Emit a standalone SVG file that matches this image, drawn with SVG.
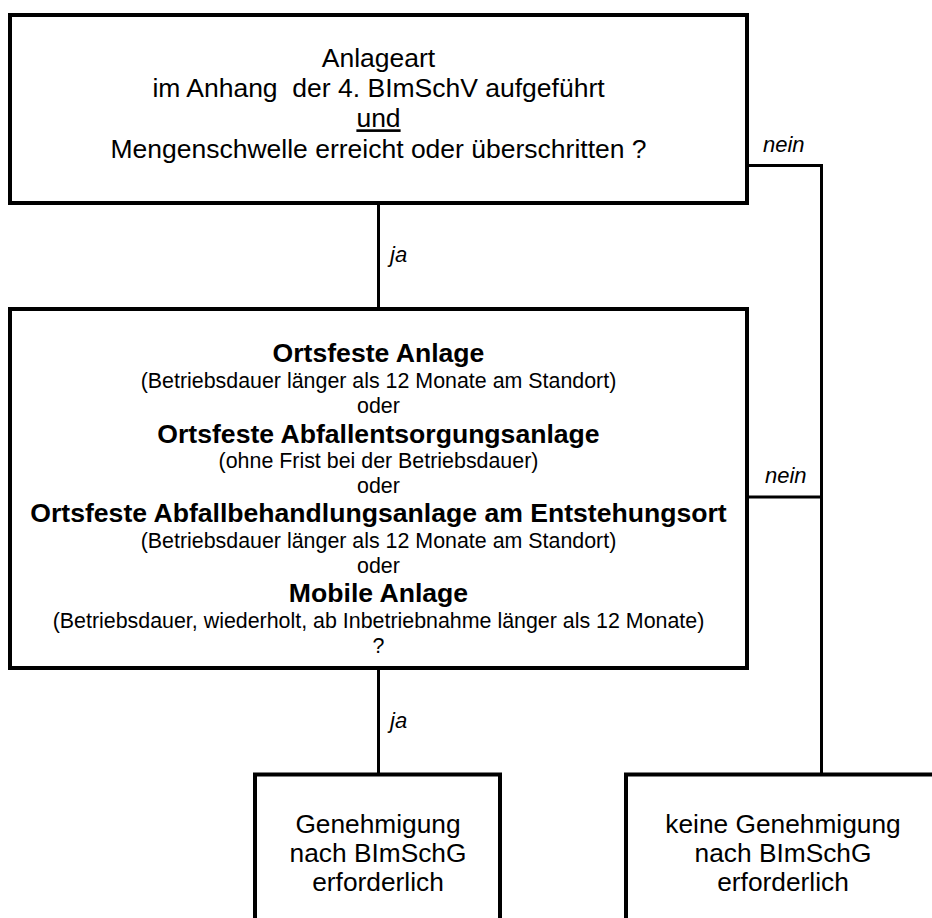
<svg xmlns="http://www.w3.org/2000/svg" width="932" height="918" viewBox="0 0 932 918">
<style>
.box{fill:#fff;stroke:#000;stroke-width:4}
.con{fill:none;stroke:#000;stroke-width:3}
text{font-family:"Liberation Sans",Arial,sans-serif;fill:#000;text-anchor:middle}
.t1{font-size:26.5px}
.b{font-size:26.6px;font-weight:bold}
.n{font-size:21.4px}
.lab{font-size:22px;font-style:italic;text-anchor:start}
.res{font-size:26.3px}
</style>
<rect width="932" height="918" fill="#fff"/>
<g id="connectors">
<line class="con" x1="378.5" y1="203" x2="378.5" y2="309"/>
<line class="con" x1="378.5" y1="668" x2="378.5" y2="774"/>
<polyline class="con" points="747,165.5 821.5,165.5 821.5,774"/>
<line class="con" x1="747" y1="497" x2="821.5" y2="497"/>
<text class="lab" x="390" y="262">ja</text>
<text class="lab" x="390" y="728">ja</text>
<text class="lab" x="763" y="152">nein</text>
<text class="lab" x="765" y="483">nein</text>
</g>
<g id="q1">
<rect class="box" x="10" y="15" width="737" height="188"/>
<text class="t1" x="378.5" y="66.5">Anlageart</text>
<text class="t1" x="378.5" y="96.7" xml:space="preserve">im Anhang  der 4. BImSchV aufgeführt</text>
<text class="t1" x="378.5" y="127.3" text-decoration="underline">und</text>
<text class="t1" x="378.5" y="158.3">Mengenschwelle erreicht oder überschritten ?</text>
</g>
<g id="q2">
<rect class="box" x="10" y="309" width="737" height="359"/>
<text class="b" x="378.5" y="361.7">Ortsfeste Anlage</text>
<text class="n" x="378.5" y="388">(Betriebsdauer länger als 12 Monate am Standort)</text>
<text class="n" x="378.5" y="413">oder</text>
<text class="b" x="378.5" y="442.7">Ortsfeste Abfallentsorgungsanlage</text>
<text class="n" x="378.5" y="468">(ohne Frist bei der Betriebsdauer)</text>
<text class="n" x="378.5" y="493">oder</text>
<text class="b" x="378.5" y="521.7">Ortsfeste Abfallbehandlungsanlage am Entstehungsort</text>
<text class="n" x="378.5" y="548">(Betriebsdauer länger als 12 Monate am Standort)</text>
<text class="n" x="378.5" y="573">oder</text>
<text class="b" x="378.5" y="601.7">Mobile Anlage</text>
<text class="n" x="378.5" y="628">(Betriebsdauer, wiederholt, ab Inbetriebnahme länger als 12 Monate)</text>
<text class="n" x="378.5" y="653">?</text>
</g>
<g id="yes">
<rect class="box" x="255" y="774.5" width="245" height="170"/>
<text class="res" x="378" y="833">Genehmigung</text>
<text class="res" x="378" y="862">nach BImSchG</text>
<text class="res" x="378" y="891">erforderlich</text>
</g>
<g id="no">
<rect class="box" x="626" y="774.5" width="320" height="170"/>
<text class="res" x="783" y="833">keine Genehmigung</text>
<text class="res" x="783" y="862">nach BImSchG</text>
<text class="res" x="783" y="891">erforderlich</text>
</g>
</svg>
